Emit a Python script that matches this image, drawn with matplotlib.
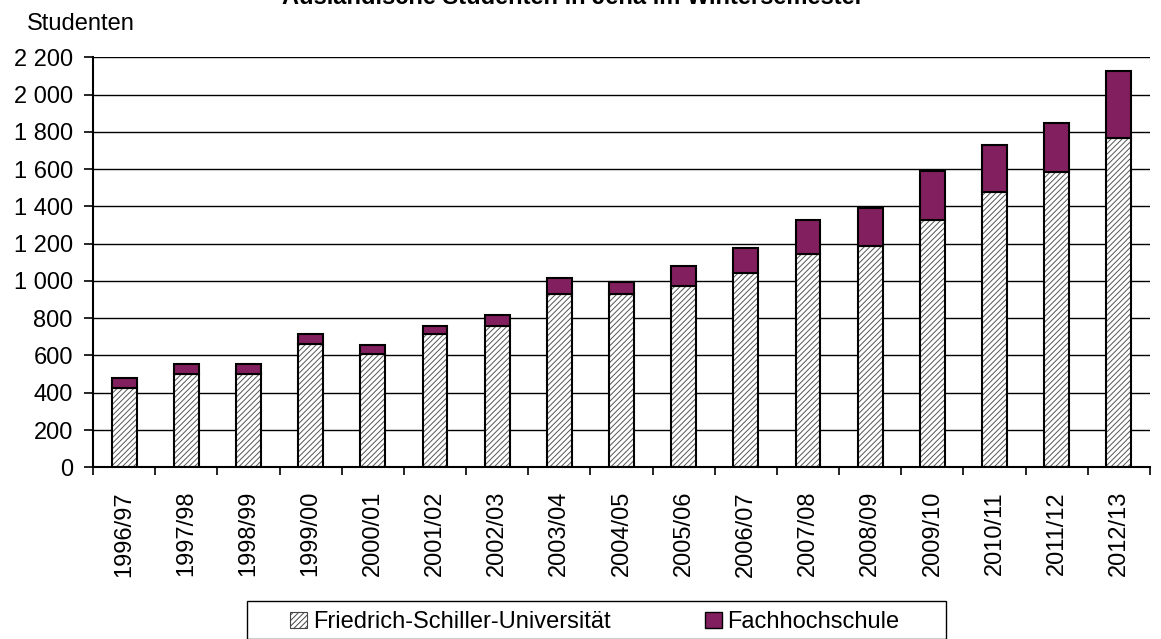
import matplotlib
matplotlib.use("Agg")
import matplotlib.pyplot as plt
import numpy as np
from matplotlib.patches import Patch, Rectangle

semesters = ["1996/97", "1997/98", "1998/99", "1999/00", "2000/01", "2001/02",
             "2002/03", "2003/04", "2004/05", "2005/06", "2006/07", "2007/08",
             "2008/09", "2009/10", "2010/11", "2011/12", "2012/13"]
fsu = [424, 499, 499, 660, 607, 715, 758, 928, 928, 973, 1045, 1143, 1186, 1329, 1477, 1585, 1768]
total = [481, 556, 556, 716, 655, 760, 815, 1016, 996, 1082, 1177, 1329, 1392, 1588, 1728, 1848, 2125]
fh = [t - f for t, f in zip(total, fsu)]
yticks = list(range(0, 2201, 200))

plt.rcParams['font.family'] = ['Liberation Sans', 'DejaVu Sans']
plt.rcParams['hatch.linewidth'] = 0.7

W, H = 1161, 639
fig = plt.figure(figsize=(W / 100, H / 100), dpi=100)
ax = fig.add_axes([93 / W, 1 - 467.3 / H, (1150 - 93) / W, (467.3 - 57.3) / H])

x = np.arange(len(semesters))
w = 0.4
purple = "#821F5F"
fs = 17

ax.bar(x, fsu, w, color="white", edgecolor="#555555", hatch="//////", linewidth=0, zorder=3)
ax.bar(x, fsu, w, color="none", edgecolor="black", linewidth=1.5, zorder=4)
ax.bar(x, fh, w, bottom=fsu, color=purple, edgecolor="black", linewidth=1.5, zorder=4)

ax.set_xlim(-0.5, len(semesters) - 0.5)
ax.set_ylim(0, 2200)
ax.set_yticks(yticks)
ax.set_yticklabels([f"{v:,}".replace(",", " ") for v in yticks], fontsize=fs)
ax.yaxis.grid(True, color="black", linewidth=1.0, zorder=0)
ax.set_axisbelow(True)

ax.set_xticks(x)
ax.set_xticklabels(semesters, rotation=90, fontsize=fs)
ax.set_xticks(np.arange(-0.5, len(semesters), 1.0), minor=True)
ax.tick_params(axis='x', which='major', length=0, pad=17)
ax.tick_params(axis='x', which='minor', length=6, width=1.2, direction='out')
ax.tick_params(axis='y', length=6.5, width=1.2, direction='out', pad=8)

for s in ["top", "right"]:
    ax.spines[s].set_visible(False)
for s in ["left", "bottom"]:
    ax.spines[s].set_linewidth(1.5)
    ax.spines[s].set_zorder(5)

fig.text(27 / W, 0.963, "Studenten", fontsize=fs, ha="left", va="center")
fig.text(0.4935, 1.004, "Ausländische Studenten in Jena im Wintersemester",
         fontsize=17, fontweight="bold", ha="center", va="center")

# legend frame
fig.add_artist(Rectangle((247 / W, 0.0), (946 - 247) / W, (639 - 601) / H,
                         transform=fig.transFigure, facecolor="white",
                         edgecolor="black", linewidth=1.0))
h1 = Patch(facecolor="white", edgecolor="#444444", hatch="//////", linewidth=0.8)
h2 = Patch(facecolor=purple, edgecolor="black", linewidth=1.0)
leg = fig.legend([h1, h2], ["Friedrich-Schiller-Universität", "Fachhochschule"],
                 loc="center", bbox_to_anchor=(595 / W, 1 - 622 / H), ncol=2, fontsize=fs,
                 frameon=False,
                 handlelength=0.7, handleheight=0.65, handletextpad=0.25,
                 columnspacing=4.0, borderpad=0.0)

fig.savefig("out.png", dpi=100)
